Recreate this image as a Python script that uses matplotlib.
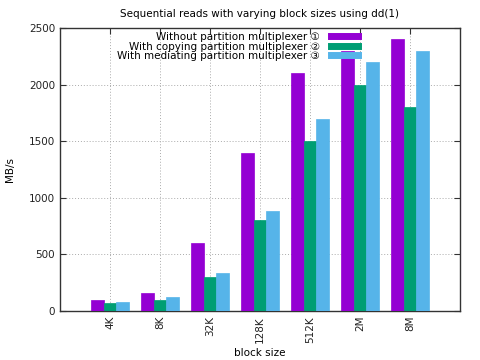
import matplotlib
matplotlib.use("Agg")
import matplotlib.pyplot as plt
import numpy as np
from matplotlib.lines import Line2D
from matplotlib.patches import Rectangle

plt.rcParams['font.family'] = ['DejaVu Sans', 'Noto Sans CJK SC']

block_sizes = ["4K", "8K", "32K", "128K", "512K", "2M", "8M"]
without_mux = [100, 160, 600, 1400, 2100, 2300, 2400]
copying_mux = [70, 100, 300, 800, 1500, 2000, 1800]
mediating_mux = [80, 120, 340, 880, 1700, 2200, 2300]

labels = ["Without partition multiplexer \u2460",
          "With copying partition multiplexer \u2461",
          "With mediating partition multiplexer \u2462"]
colors = ["#9400d3", "#009e73", "#56b4e9"]

fig = plt.figure(figsize=(4.8, 3.6), dpi=100)
ax = fig.add_axes([0.125, 0.136, 0.833, 0.786])

x = np.arange(len(block_sizes))
w = 0.25
for i, (vals, c) in enumerate(zip([without_mux, copying_mux, mediating_mux], colors)):
    ax.bar(x + (i - 1) * w, vals, w, color=c, edgecolor=c, linewidth=0.5, zorder=3)

ax.set_xlim(-1, len(block_sizes))
ax.set_ylim(0, 2500)
ax.set_yticks([0, 500, 1000, 1500, 2000, 2500])
ax.set_xticks(x)
ax.set_xticklabels(block_sizes, rotation=90)
ax.tick_params(direction="in", top=True, right=True, labelsize=7.5,
               length=4, color="#333333", labelcolor="#222222")
ax.grid(True, linestyle=(0, (1, 2)), color="#aaaaaa", linewidth=0.7, zorder=0)
for s in ax.spines.values():
    s.set_color("#333333")
    s.set_linewidth(1.0)

# key area blanks the grid behind it (gnuplot-style key)
ax.add_patch(Rectangle((0.1, 0.887), 0.665, 0.11, transform=ax.transAxes,
                       facecolor="white", edgecolor="none", zorder=1))

ax.set_title("Sequential reads with varying block sizes using dd(1)", fontsize=7.5, pad=8)
ax.set_xlabel("block size", fontsize=7.5, labelpad=4)
ax.set_ylabel("MB/s", fontsize=7.5, labelpad=10)

handles = [Line2D([0], [0], color=c, linewidth=5) for c in colors]
leg = ax.legend(handles, labels, loc="upper right", bbox_to_anchor=(0.762, 1.008),
                frameon=False, markerfirst=False, fontsize=7.5, handlelength=2.6,
                labelspacing=-0.05, handletextpad=1.1, borderaxespad=0.2)
leg.set_zorder(5)
for t in leg.get_texts():
    t.set_ha("right")

fig.savefig("out.png", dpi=100)
